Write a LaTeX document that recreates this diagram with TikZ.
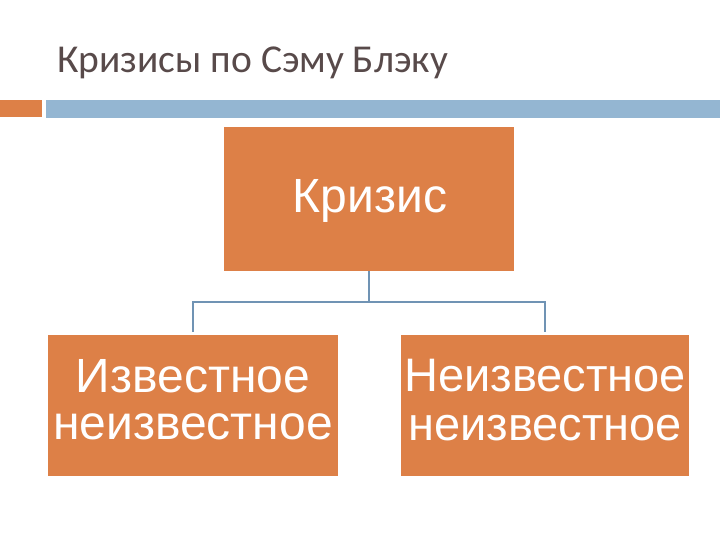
\documentclass[tikz,border=0pt]{standalone}
\usepackage{fontspec}
\setmainfont{Liberation Sans}
\newfontfamily\titlefont{Carlito}
\definecolor{boxorange}{HTML}{DD8047}
\definecolor{barblue}{HTML}{94B6D2}
\definecolor{linkblue}{HTML}{7093B4}
\definecolor{titlegray}{HTML}{584A4A}
\begin{document}
\begin{tikzpicture}[x=1pt,y=-1pt,
  orangebox/.style={fill=boxorange,draw=none,inner sep=0pt},
  boxtext/.style={text=white,inner sep=0pt,anchor=base,align=center},
  linkline/.style={draw=linkblue,line width=1.6pt}]
\useasboundingbox (0,0) rectangle (720,540);
\fill[white] (0,0) rectangle (720,540);
\node[anchor=base west,text=titlegray,inner sep=0pt,font=\titlefont\fontsize{39.5}{39.5}\selectfont] (title) at (57,73) {Кризисы по Сэму Блэку};
\fill[boxorange] (0,100) rectangle (42,117);
\fill[barblue] (46,100) rectangle (720,118);
\node[orangebox,minimum width=290pt,minimum height=144pt] (top) at (369,199) {};
\node[orangebox,minimum width=290pt,minimum height=141pt] (left) at (193,405.5) {};
\node[orangebox,minimum width=288pt,minimum height=141pt] (right) at (545,405.5) {};
\node[boxtext,font=\fontsize{48}{48}\selectfont] (toptext) at (370,213) {Кризис};
\node[boxtext,font=\fontsize{48}{47}\selectfont,anchor=north] (lefttext1) at (193,359) {Известное\\неизвестное};
\node[boxtext,font=\fontsize{47}{49}\selectfont,anchor=north] (righttext) at (545,359) {Неизвестное\\неизвестное};
\coordinate (mid) at (369,302);
\draw[linkline] (top.south) -- (mid);
\draw[linkline] (mid) -| ([yshift=3pt]left.north);
\draw[linkline] (mid) -| ([yshift=3pt]right.north);
\end{tikzpicture}
\end{document}
